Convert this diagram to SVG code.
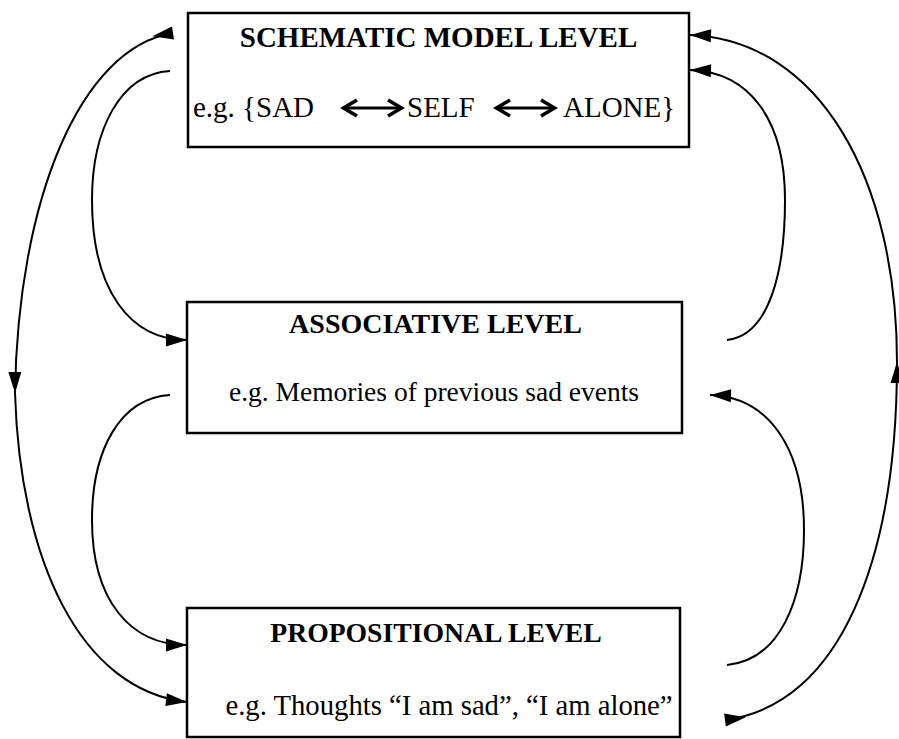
<svg xmlns="http://www.w3.org/2000/svg" width="899" height="739" viewBox="0 0 899 739">
  <style>
    .box { fill: #fff; stroke: #000; stroke-width: 2.5; }
    .title { font-family: "Liberation Serif", "Times New Roman", serif; font-weight: bold; fill: #000; text-anchor: middle; }
    .body { font-family: "Liberation Serif", "Times New Roman", serif; fill: #000; }
    .link { fill: none; stroke: #000; stroke-width: 2; }
    .into { marker-end: url(#head); }
  </style>
  <defs>
    <!-- arrowhead whose tip sits on the path end / vertex -->
    <marker id="head" markerUnits="userSpaceOnUse" markerWidth="24" markerHeight="16" viewBox="-22 -8 24 16" refX="0" refY="0" orient="auto" overflow="visible">
      <path d="M0,0 L-21,-6.5 L-21,6.5 Z" fill="#000"/>
    </marker>
    <!-- arrowhead at a path start, pointing along the path -->
    <marker id="lead" markerUnits="userSpaceOnUse" markerWidth="24" markerHeight="16" viewBox="-2 -8 24 16" refX="0" refY="0" orient="auto" overflow="visible">
      <path d="M21,0 L0,-6.5 L0,6.5 Z" fill="#000"/>
    </marker>
    <!-- inline double-headed arrow used inside the text line -->
    <g id="dbl">
      <line x1="3" y1="0" x2="58" y2="0" stroke="#000" stroke-width="3.2"/>
      <polyline points="15,-8 1.5,0 15,8" fill="none" stroke="#000" stroke-width="3.6" stroke-linejoin="miter"/>
      <polyline points="46,-8 59.5,0 46,8" fill="none" stroke="#000" stroke-width="3.6" stroke-linejoin="miter"/>
    </g>
  </defs>

  <g id="connectors">
    <!-- outer left: schematic down to propositional -->
    <path class="link" marker-start="url(#lead)" marker-mid="url(#head)" marker-end="url(#head)"
          d="M173,33 C80,48 18,200 15,393 C20,560 80,690 187,702"/>
    <!-- inner left: schematic to associative -->
    <path class="link into" d="M170,71 C120,74 92,130 92,200 C92,290 130,340 187,340"/>
    <!-- inner left: associative to propositional -->
    <path class="link into" d="M170,395 C120,398 92,450 92,520 C92,600 130,645 187,645"/>
    <!-- inner right: associative back to schematic -->
    <path class="link into" d="M727,340 C770,335 785,270 785,200 C785,120 750,72 690,70"/>
    <!-- inner right: propositional back to associative -->
    <path class="link into" d="M727,665 C780,660 804,600 804,530 C804,450 770,397 710,395"/>
    <!-- outer right: propositional back to schematic -->
    <path class="link" marker-start="url(#lead)" marker-mid="url(#head)" marker-end="url(#head)"
          d="M725,720 C840,705 897,560 897,362 C897,180 820,40 690,35"/>
  </g>

  <g id="schematic">
    <rect class="box" x="188" y="13" width="501" height="134"/>
    <text class="title" x="438.5" y="47" font-size="29">SCHEMATIC MODEL LEVEL</text>
    <text class="body" x="193" y="117" font-size="29">e.g. {SAD</text>
    <use href="#dbl" x="342" y="108"/>
    <text class="body" x="407" y="117" font-size="29">SELF</text>
    <use href="#dbl" x="495" y="108"/>
    <text class="body" x="563" y="117" font-size="29">ALONE}</text>
  </g>

  <g id="associative">
    <rect class="box" x="187" y="302" width="495" height="131"/>
    <text class="title" x="435.5" y="333" font-size="28">ASSOCIATIVE LEVEL</text>
    <text class="body" x="434" y="401" font-size="27.5" text-anchor="middle">e.g. Memories of previous sad events</text>
  </g>

  <g id="propositional">
    <rect class="box" x="187" y="608" width="493" height="129"/>
    <text class="title" x="436" y="642" font-size="27.7">PROPOSITIONAL LEVEL</text>
    <text class="body" x="449" y="715" font-size="28.7" text-anchor="middle">e.g. Thoughts “I am sad”, “I am alone”</text>
  </g>
</svg>
